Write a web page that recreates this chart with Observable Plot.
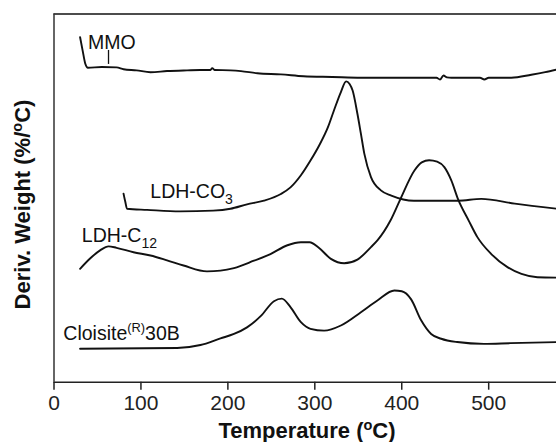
<!DOCTYPE html>
<html>
<head>
<meta charset="utf-8">
<script src="https://cdn.jsdelivr.net/npm/d3@7"></script>
<script src="https://cdn.jsdelivr.net/npm/@observablehq/plot@0.6"></script>
<style>
html, body { margin: 0; padding: 0; background: #fff; }
#chart svg { display: block; }
</style>
</head>
<body>
<div id="chart"></div>
<script>
// ---- data (temperature in °C, derivative weight in arbitrary offset units) ----
const xTicks = [0, 100, 200, 300, 400, 500];

const mmoT = [30, 33, 36, 39, 55, 72, 80, 95, 111, 130, 153, 168, 180, 182, 185, 203, 215, 234, 261, 287, 320, 353, 399, 440, 444, 448, 452, 457, 490, 495, 500, 526, 549, 565, 578];
const mmoV = [93.7, 90.0, 86.5, 85.4, 85.6, 85.5, 85.0, 84.7, 84.2, 84.5, 84.7, 84.8, 84.8, 85.3, 84.8, 84.7, 84.5, 83.9, 83.6, 83.1, 82.9, 82.7, 82.7, 82.7, 82.2, 83.3, 82.8, 82.7, 82.7, 82.2, 82.7, 82.7, 83.5, 84.2, 84.9];

const co3T = [80, 82, 84, 107, 145, 183, 203, 222, 241.5, 261, 272, 284, 295, 305, 315, 322, 330, 336, 340, 343.5, 349, 353, 357, 364.6, 376, 388, 414, 441, 465, 491.5, 530, 579];
const co3V = [51.2, 49.0, 47.1, 46.8, 46.4, 46.6, 47.1, 48.3, 49.3, 51.1, 52.9, 56.2, 60.2, 64.3, 69.2, 73.8, 78.8, 81.7, 81.0, 79.2, 72.9, 67.5, 62.0, 55.7, 52.1, 50.7, 49.3, 49.3, 49.3, 49.8, 48.5, 47.1];

const c12T = [30, 41.5, 53, 62.7, 72, 91.5, 111, 130, 149, 176, 191.5, 207, 230, 249, 268.5, 284, 294, 304.6, 318.5, 333.8, 349, 364.6, 372, 387, 398.6, 414.6, 423, 431.5, 440.7, 449, 457, 464.6, 477, 487, 503, 522, 537.7, 556, 579];
const c12V = [30.8, 33.6, 35.8, 36.9, 36.5, 35.3, 34.4, 33.1, 31.7, 30.1, 30.3, 31.0, 33.0, 34.8, 37.2, 38.0, 38.0, 36.5, 33.5, 32.3, 33.3, 36.7, 38.5, 43.9, 49.8, 57.5, 59.7, 60.3, 59.9, 58.4, 54.8, 49.8, 43.9, 39.4, 34.8, 31.2, 29.4, 28.5, 28.4];

const cloT = [30, 141.6, 168.5, 191.5, 207, 222, 238, 253, 262, 272, 284, 295, 310.7, 330, 353, 372, 391.5, 400, 410.8, 422.3, 433.8, 445.4, 463.8, 494.6, 525.3, 579];
const cloV = [9.1, 9.3, 10.1, 11.9, 13.1, 14.9, 18.0, 22.0, 22.7, 20.4, 16.3, 14.5, 14.0, 15.4, 19.0, 22.2, 24.9, 24.7, 22.5, 16.8, 13.1, 11.8, 10.9, 10.4, 10.6, 10.9];

const seriesNames = ["MMO", "LDH-CO3", "LDH-C12", "Cloisite(R)30B"];
const labelT = [39.2, 110.8, 32, 10.7];
const labelV = [90.5, 50.0, 38.0, 11.5];
const mmoMarker = [{T: 62.7, v1: 86.3, v2: 90.1}];

const xLabel = "Temperature (oC)";
const yLabel = "Deriv. Weight (%/oC)";

// rich text pieces (sub/superscripts)
const richParts = {
  "LDH-CO3": [["LDH-CO"], ["3", "sub"]],
  "LDH-C12": [["LDH-C"], ["12", "sub"]],
  "Cloisite(R)30B": [["Cloisite"], ["(R)", "sup"], ["30B"]],
  "Temperature (oC)": [["Temperature ("], ["o", "sup"], ["C)"]],
  "Deriv. Weight (%/oC)": [["Deriv. Weight (%/"], ["o", "sup"], ["C)"]]
};

// ---- build tables ----
const rows = [];
[[mmoT, mmoV], [co3T, co3V], [c12T, c12V], [cloT, cloV]].forEach(([T, V], k) => {
  T.forEach((t, i) => rows.push({series: seriesNames[k], T: t, v: V[i]}));
});
const labels = seriesNames.map((name, i) => ({name, T: labelT[i], v: labelV[i]}));

const ink = "#111";
const plot = Plot.plot({
  width: 556,
  height: 442,
  marginLeft: 53.5,
  marginRight: 0,
  marginTop: 13.5,
  marginBottom: 60.3,
  style: {fontFamily: "'Liberation Sans', Arial, Helvetica, sans-serif", color: ink, background: "#fff", overflow: "visible"},
  x: {domain: [0, 578], label: null},
  y: {domain: [0, 100], axis: null, label: null},
  marks: [
    Plot.ruleY([0], {stroke: "#222", strokeWidth: 1.5}),
    Plot.ruleY([100], {stroke: ink, strokeWidth: 1.7}),
    Plot.ruleX([0], {stroke: "#333", strokeWidth: 1.5}),
    Plot.axisX({ticks: xTicks, tickSize: 8, tickPadding: 5, fontSize: 21, label: null, strokeWidth: 1.5, stroke: "#222", fill: "#222"}),
    Plot.line(rows, {x: "T", y: "v", z: "series", stroke: ink, strokeWidth: 1.9, curve: "monotone-x"}),
    Plot.ruleX(mmoMarker, {x: "T", y1: "v1", y2: "v2", stroke: ink, strokeWidth: 1.3}),
    Plot.text(labels, {x: "T", y: "v", text: "name", textAnchor: "start", lineAnchor: "bottom", fontSize: 19.5, fill: ink}),
    Plot.text([xLabel], {text: d => d, frameAnchor: "bottom", textAnchor: "middle", dx: 1.75, dy: 56, lineAnchor: "bottom", fontSize: 22, fontWeight: "bold", fill: ink}),
    Plot.text([yLabel], {text: d => d, frameAnchor: "left", textAnchor: "middle", rotate: -90, dx: -31, dy: 6.4, fontSize: 22, fontWeight: "bold", fill: ink})
  ]
});

document.getElementById("chart").appendChild(plot);

// apply sub/superscripts as tspans
const NS = "http://www.w3.org/2000/svg";
plot.querySelectorAll("text").forEach(t => {
  const parts = richParts[t.textContent];
  if (!parts) return;
  const fs = parseFloat(getComputedStyle(t).fontSize) || 20;
  while (t.firstChild) t.removeChild(t.firstChild);
  let shift = 0;
  for (const [s, kind] of parts) {
    const ts = document.createElementNS(NS, "tspan");
    let target = 0, size = null;
    if (kind === "sub") { target = 0.3 * fs; size = 0.72 * fs; }
    if (kind === "sup") { target = -0.38 * fs; size = 0.66 * fs; }
    const dy = target - shift;
    if (dy) ts.setAttribute("dy", dy.toFixed(2));
    if (size) ts.setAttribute("font-size", size.toFixed(2));
    shift = target;
    ts.textContent = s;
    t.appendChild(ts);
  }
});
</script>
</body>
</html>
